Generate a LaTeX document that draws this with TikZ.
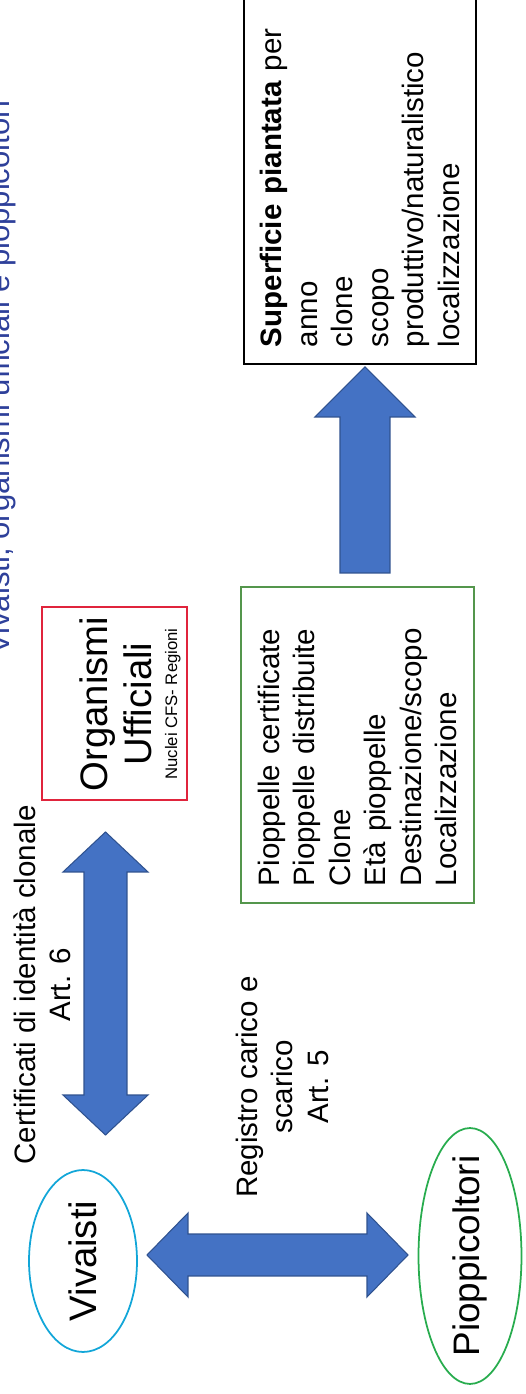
\documentclass[tikz,border=0pt]{standalone}
\usepackage{fontspec}
\setmainfont{Liberation Sans}
\usetikzlibrary{calc,shapes.geometric}

\definecolor{arrowblue}{RGB}{68,114,196}
\definecolor{arrowline}{RGB}{47,82,143}
\definecolor{titleblue}{RGB}{46,64,154}
\definecolor{orgred}{RGB}{224,36,60}
\definecolor{boxgreen}{RGB}{84,150,76}
\definecolor{vivblue}{RGB}{18,166,216}
\definecolor{piopgreen}{RGB}{40,172,78}

% block arrows: from, to, shaft half width, head half width, head length
\newcommand\fatarrow[5]{%
\coordinate (hb) at ($(#2)!#5!(#1)$);
\filldraw[blockarrow] ($(#1)!#3!90:(#2)$) -- ($(hb)!#3!90:(#2)$) -- ($(hb)!#4!90:(#2)$) -- (#2)
  -- ($(hb)!#4!-90:(#2)$) -- ($(hb)!#3!-90:(#2)$) -- ($(#1)!#3!-90:(#2)$) -- cycle;}
\newcommand\fatdarrow[5]{%
\coordinate (ha) at ($(#1)!#5!(#2)$);
\coordinate (hb) at ($(#2)!#5!(#1)$);
\filldraw[blockarrow] (#1) -- ($(ha)!#4!90:(#2)$) -- ($(ha)!#3!90:(#2)$) -- ($(hb)!#3!90:(#2)$)
  -- ($(hb)!#4!90:(#2)$) -- (#2) -- ($(hb)!#4!-90:(#2)$) -- ($(hb)!#3!-90:(#2)$)
  -- ($(ha)!#3!-90:(#2)$) -- ($(ha)!#4!-90:(#2)$) -- cycle;}

\begin{document}
\begin{tikzpicture}[x=0.02cm, y=0.02cm, rotate=90, transform shape,
  txt/.style={font=\fontsize{16.8}{20.2}\selectfont, inner sep=0pt, align=center},
  big/.style={font=\fontsize{21.8}{25.5}\selectfont, inner sep=0pt, align=center},
  listbox/.style={draw, line width=1pt, align=left, inner xsep=0.34cm, anchor=north west,
    font=\fontsize{16.8}{20.2}\selectfont},
  actor/.style={ellipse, line width=1pt, inner sep=0pt},
  blockarrow/.style={fill=arrowblue, draw=arrowline, line width=0.6pt}]

\useasboundingbox (0,0) rectangle (1394,-526);
\clip (0,0) rectangle (1394,-526);

\node[anchor=base west, text=titleblue, inner sep=0pt, font=\fontsize{17.7}{20}\selectfont] (title) at (739,-10) {Vivaisti, organismi ufficiali e pioppicoltori};

% actors
\node[actor, big, draw=vivblue, minimum width=3.64cm, minimum height=2.16cm] (viv) at (133,-83) {Vivaisti};
\node[actor, draw=piopgreen, inner xsep=-0.3cm, minimum width=5.12cm, minimum height=2.06cm, font=\fontsize{21}{25}\selectfont] (piop) at (138,-470) {Pioppicoltori};

\node[draw=orgred, line width=1pt, minimum width=3.86cm, minimum height=2.9cm] (org) at (690.5,-114.5) {};
\node[big, anchor=north] (orgname) at (690,-79) {Organismi\\Ufficiali};
\node[inner sep=0pt, anchor=base, font=\fontsize{9.5}{11}\selectfont] (orgsub) at (690,-177) {Nuclei CFS- Regioni};

% lists
\node[listbox, draw=boxgreen, text width=5.64cm, minimum height=4.66cm] (lista) at (490,-240) {Pioppelle certificate\\Pioppelle distribuite\\Clone\\Età pioppelle\\Destinazione/scopo\\Localizzazione};
\node[listbox, text width=6.94cm, minimum height=4.64cm] (surf) at (1029,-243) {\textbf{Superficie piantata} per\\anno\\clone\\scopo\\produttivo/naturalistico\\localizzazione};

% labels
\node[txt, anchor=north] (cert) at (409,-13.4) {Certificati di identità clonale\\Art. 6};
\node[txt, anchor=north] (reg) at (307,-235.4) {Registro carico e\\scarico\\Art. 5};

% arrows
\coordinate (c1) at (259,-105.5);
\coordinate (c2) at (562,-105.5);
\fatdarrow{c1}{c2}{0.43cm}{0.85cm}{0.8cm}

\coordinate (r1) at (139,-147);
\coordinate (r2) at (139,-408);
\fatdarrow{r1}{r2}{0.42cm}{0.84cm}{0.82cm}

\coordinate (s1) at (821,-365);
\coordinate (s2) at (1027,-365);
\fatarrow{s1}{s2}{0.5cm}{1cm}{1cm}

\end{tikzpicture}
\end{document}
